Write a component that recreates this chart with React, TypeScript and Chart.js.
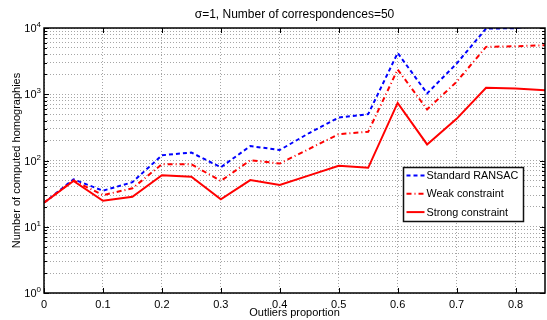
import React, { useEffect, useRef } from 'react';
import { Chart, registerables } from 'chart.js';

Chart.register(...registerables);

const outliers = [0, 0.05, 0.1, 0.15, 0.2, 0.25, 0.3, 0.35, 0.4, 0.45, 0.5, 0.55, 0.6, 0.65, 0.7, 0.75, 0.8, 0.85];
const standardRansac = [23, 52, 35, 47, 120, 132, 79, 165, 144, 260, 445, 500, 4200, 1030, 2900, 9800, 9950, 11000];
const weakConstraint = [23, 50, 30, 38, 88, 88, 49, 101, 90, 150, 250, 271, 2370, 590, 1540, 5190, 5300, 5500];
const strongConstraint = [23, 49, 24.7, 28.4, 60, 57, 25.9, 50.6, 42.6, 59.6, 83, 77.6, 741, 175, 425, 1250, 1223, 1150];

const xTicks = [0, 0.1, 0.2, 0.3, 0.4, 0.5, 0.6, 0.7, 0.8];
const xTickLabels = ['0', '0.1', '0.2', '0.3', '0.4', '0.5', '0.6', '0.7', '0.8'];
const yMajorTicks = [1, 10, 100, 1000, 10000];
const yExponents = ['0', '1', '2', '3', '4'];
const seriesLabels = ['Standard RANSAC', 'Weak constraint', 'Strong constraint'];
const titleText = 'σ=1, Number of correspondences=50';
const xTitle = 'Outliers proportion';
const yTitle = 'Number of computed homographies';

const FONT = '"Liberation Sans", Arial, Helvetica, sans-serif';

const yAllTicks: number[] = [];
for (let d = 0; d < yMajorTicks.length - 1; d++) {
  for (let m = 1; m <= 9; m++) yAllTicks.push(m * yMajorTicks[d]);
}
yAllTicks.push(yMajorTicks[yMajorTicks.length - 1]);

const seriesStyles = [
  { color: '#0000ff', dash: [4, 3] },
  { color: '#ff0000', dash: [5, 3, 1, 3] },
  { color: '#ff0000', dash: [] as number[] },
];

const decorPlugin = {
  id: 'decor',
  afterDatasetsDraw(chart: any) {
    const { ctx, chartArea: a, scales } = chart;
    ctx.save();
    ctx.strokeStyle = '#000';
    ctx.lineWidth = 1;
    ctx.setLineDash([]);
    const seg = (x1: number, y1: number, x2: number, y2: number) => {
      ctx.beginPath();
      ctx.moveTo(x1, y1);
      ctx.lineTo(x2, y2);
      ctx.stroke();
    };
    xTicks.forEach((v) => {
      const x = Math.round(scales.x.getPixelForValue(v)) + 0.5;
      seg(x, a.bottom, x, a.bottom - 5);
      seg(x, a.top, x, a.top + 5);
    });
    yAllTicks.forEach((v) => {
      const y = Math.round(scales.y.getPixelForValue(v)) + 0.5;
      const L = yMajorTicks.includes(v) ? 5 : 3;
      seg(a.left, y, a.left + L, y);
      seg(a.right, y, a.right - L, y);
    });
    ctx.lineWidth = 1.5;
    ctx.strokeRect(a.left, a.top, a.right - a.left, a.bottom - a.top);

    // legend
    const lx = 403.5, ly = 167.5, lw = 120, lh = 54;
    ctx.fillStyle = '#fff';
    ctx.fillRect(lx, ly, lw, lh);
    ctx.lineWidth = 1.5;
    ctx.strokeStyle = '#111';
    ctx.strokeRect(lx, ly, lw, lh);
    ctx.font = `10.8px ${FONT}`;
    ctx.textBaseline = 'middle';
    ctx.textAlign = 'left';
    seriesLabels.forEach((lab, i) => {
      const y = ly + 8 + i * 18.3;
      ctx.strokeStyle = seriesStyles[i].color;
      ctx.lineWidth = 2;
      ctx.setLineDash(seriesStyles[i].dash);
      seg(lx + 3, y, lx + 21, y);
      ctx.setLineDash([]);
      ctx.fillStyle = '#000';
      ctx.fillText(lab, lx + 23, y + 0.5);
    });
    ctx.restore();
  },
  afterDraw(chart: any) {
    const { ctx, chartArea: a, scales } = chart;
    ctx.save();
    ctx.fillStyle = '#000';
    // y tick labels with superscripts
    yMajorTicks.forEach((v, i) => {
      const y = scales.y.getPixelForValue(v);
      ctx.font = `8px ${FONT}`;
      const ew = ctx.measureText(yExponents[i]).width;
      ctx.textAlign = 'right';
      ctx.textBaseline = 'alphabetic';
      ctx.fillText(yExponents[i], a.left - 3, y - 1);
      ctx.font = `11px ${FONT}`;
      ctx.textBaseline = 'middle';
      ctx.fillText('10', a.left - 3 - ew, y + 1);
    });
    // title
    ctx.font = `12px ${FONT}`;
    ctx.textAlign = 'center';
    ctx.textBaseline = 'middle';
    ctx.fillText(titleText, (a.left + a.right) / 2, 15);
    // x title
    ctx.font = `11px ${FONT}`;
    ctx.fillText(xTitle, (a.left + a.right) / 2, 313);
    // y title
    ctx.translate(17, (a.top + a.bottom) / 2);
    ctx.rotate(-Math.PI / 2);
    ctx.fillText(yTitle, 0, 0);
    ctx.restore();
  },
};

export default function App() {
  const ref = useRef<HTMLCanvasElement>(null);
  useEffect(() => {
    document.body.style.margin = '0';
    const cvs = ref.current;
    if (!cvs) return;
    const datasets = [standardRansac, weakConstraint, strongConstraint].map((arr, i) => ({
      label: seriesLabels[i],
      data: arr.map((v, j) => ({ x: outliers[j], y: v })),
      borderColor: seriesStyles[i].color,
      backgroundColor: seriesStyles[i].color,
      borderWidth: 2,
      borderDash: seriesStyles[i].dash,
      pointRadius: 0,
      tension: 0,
      fill: false,
      order: 2 - i,
    }));
    const chart = new Chart(cvs, {
      type: 'line',
      data: { datasets },
      plugins: [decorPlugin],
      options: {
        responsive: false,
        animation: false,
        devicePixelRatio: 1,
        layout: { padding: { top: 28, right: 2, left: 0, bottom: 0 } },
        plugins: { legend: { display: false }, tooltip: { enabled: false }, title: { display: false } },
        scales: {
          x: {
            type: 'linear',
            min: 0,
            max: 0.85,
            afterBuildTicks: (s: any) => {
              s.ticks = xTicks.map((v) => ({ value: v }));
            },
            afterFit: (s: any) => {
              s.height = 27;
            },
            grid: { color: 'rgba(0,0,0,0.35)', lineWidth: 1, drawTicks: false },
            border: { display: false, dash: [1, 2] },
            ticks: {
              autoSkip: false,
              maxRotation: 0,
              padding: 5,
              color: '#000',
              font: { family: FONT, size: 11 },
              callback: (v: any) => {
                const i = xTicks.findIndex((t) => Math.abs(t - v) < 1e-9);
                return i >= 0 ? xTickLabels[i] : '';
              },
            },
          },
          y: {
            type: 'logarithmic',
            min: 1,
            max: 10000,
            afterBuildTicks: (s: any) => {
              s.ticks = yAllTicks.map((v) => ({ value: v }));
            },
            afterFit: (s: any) => {
              s.width = 44;
            },
            grid: { color: 'rgba(0,0,0,0.35)', lineWidth: 1, drawTicks: false },
            border: { display: false, dash: [1, 2] },
            ticks: { display: false, autoSkip: false },
          },
        },
      } as any,
    });
    return () => chart.destroy();
  }, []);
  return (
    <div style={{ position: 'absolute', left: 0, top: 0, width: 547, height: 320 }}>
      <canvas ref={ref} width={547} height={320} style={{ width: 547, height: 320, display: 'block' }} />
    </div>
  );
}
